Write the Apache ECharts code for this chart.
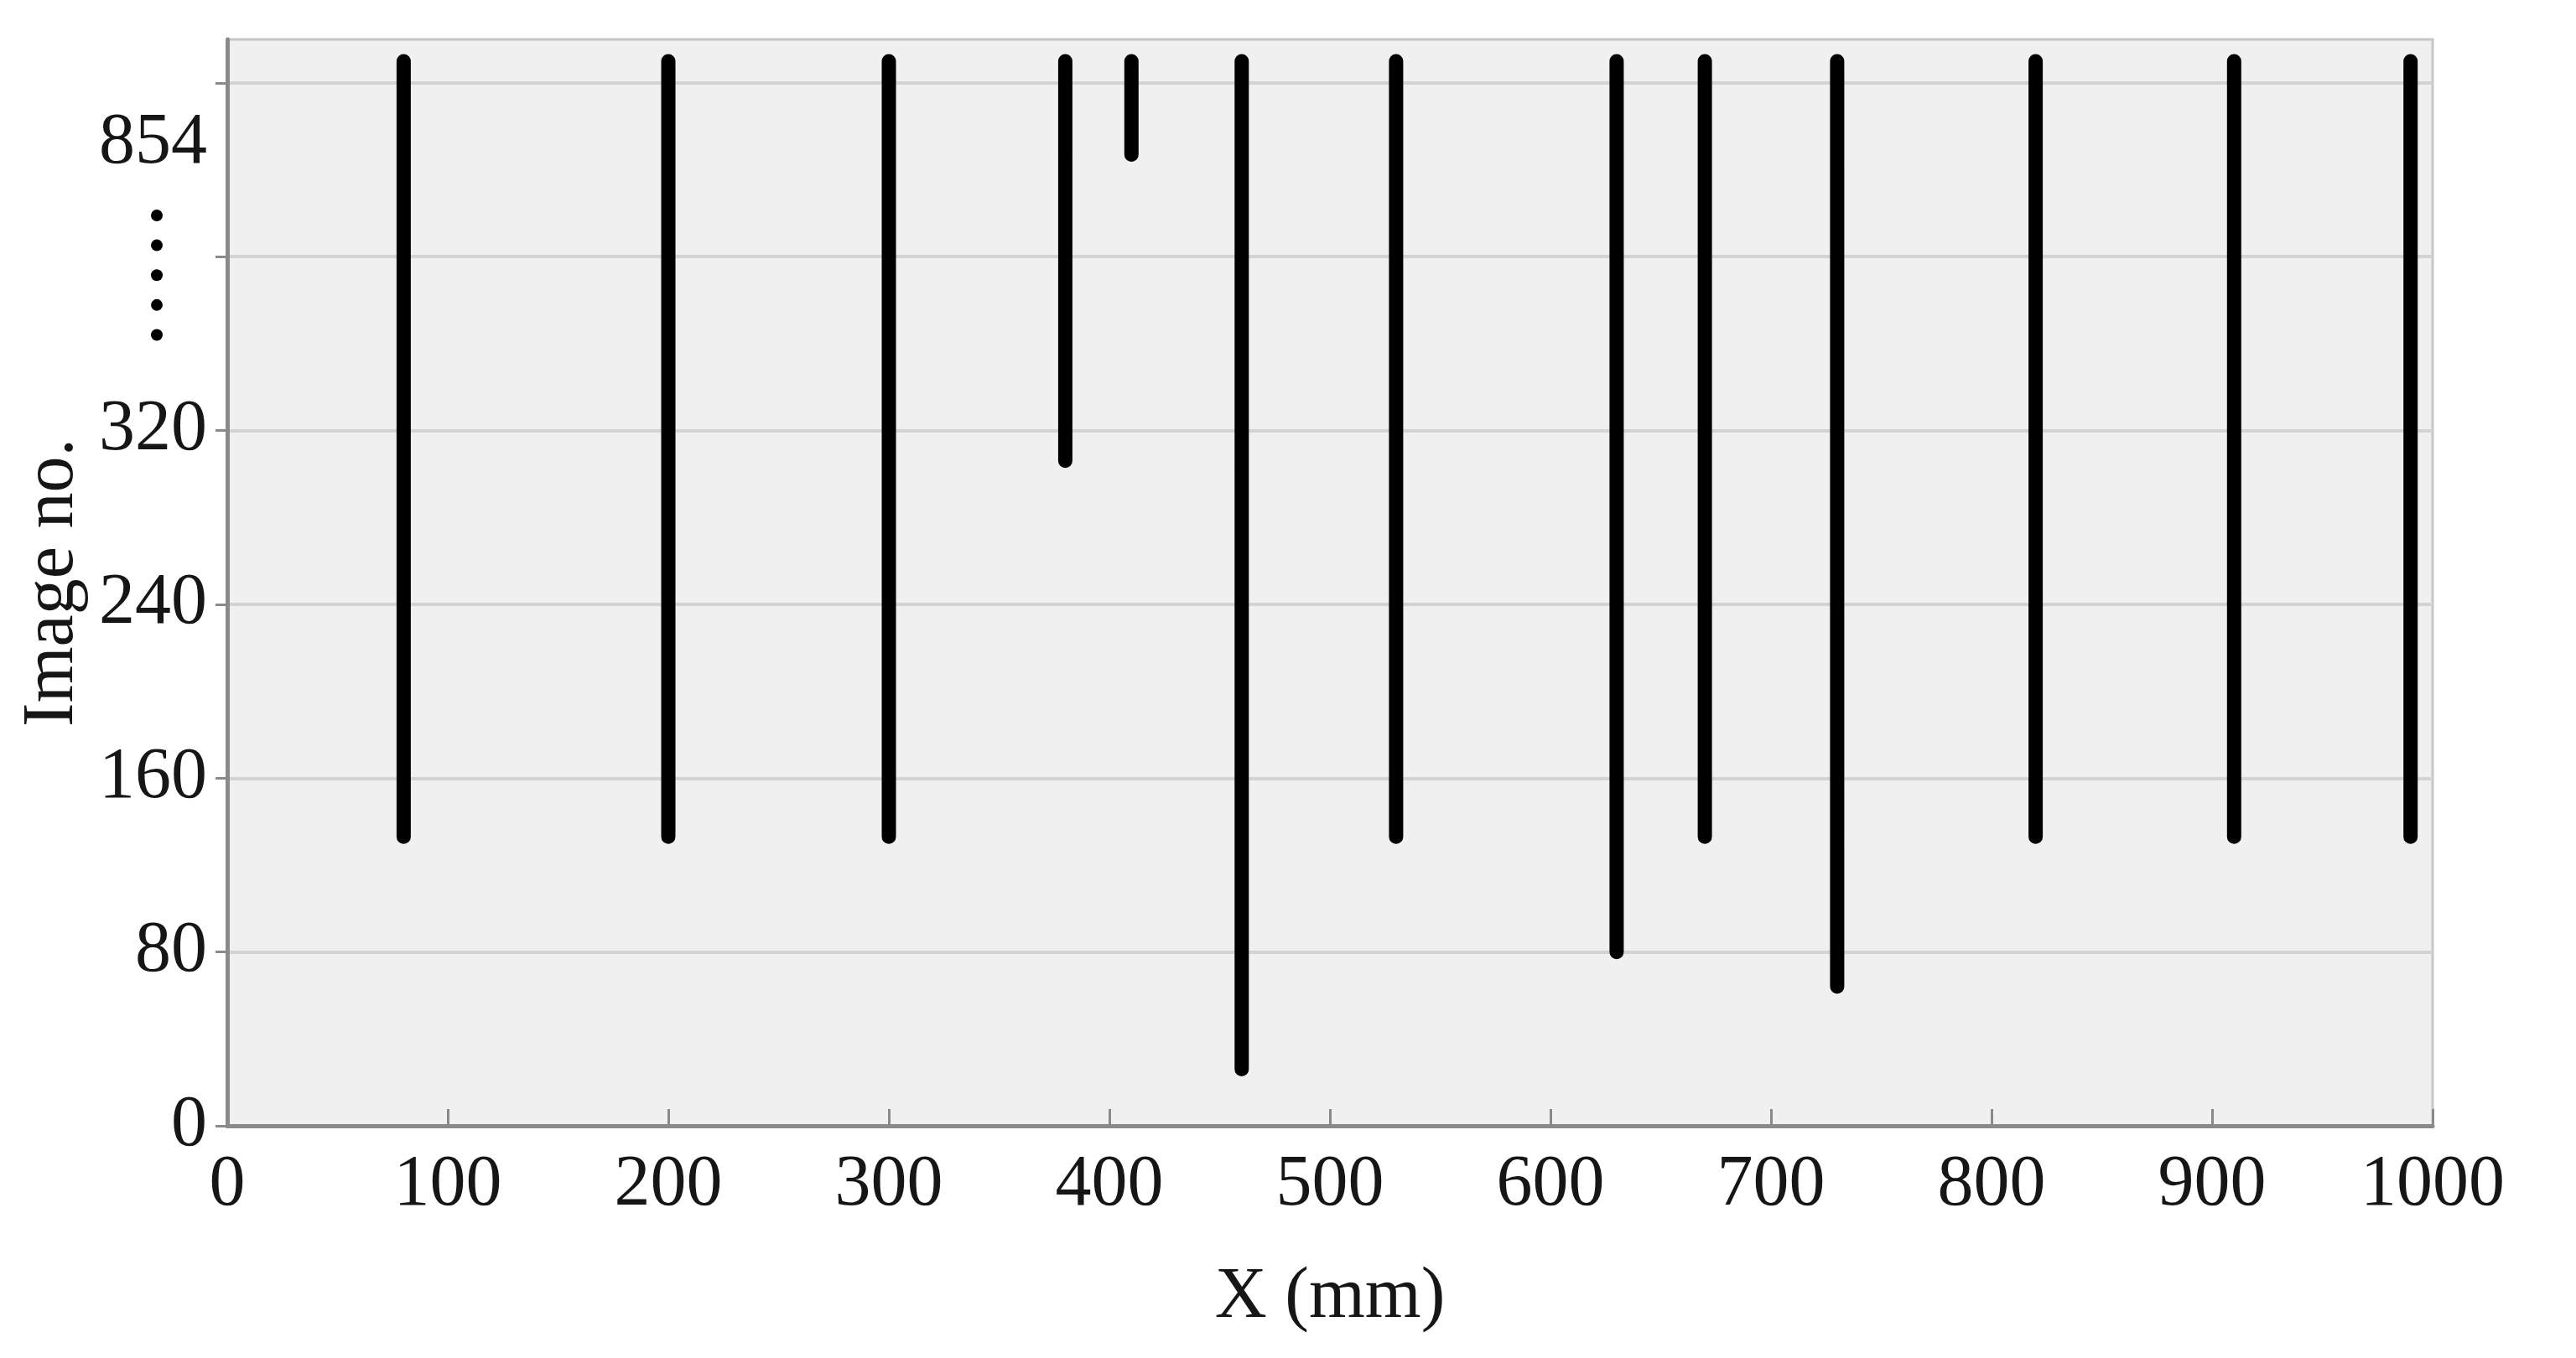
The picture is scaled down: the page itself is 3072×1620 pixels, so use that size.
<!DOCTYPE html>
<html>
<head>
<meta charset="utf-8">
<script src="https://cdn.jsdelivr.net/npm/echarts@6/dist/echarts.min.js"></script>
<style>
html,body{margin:0;padding:0;background:#fff;}
#chart{width:3072px;height:1620px;}
</style>
</head>
<body>
<div id="chart"></div>
<script>
// X positions (mm) of each vertical detection line
const xPositions = [80, 200, 300, 380, 410, 460, 530, 630, 670, 730, 820, 910, 990];
// Line extents on the (broken) image-number axis
const lineBottoms = [133, 133, 133, 306, 447, 26, 133, 80, 133, 64, 133, 133, 133];
const lineTops    = [490, 490, 490, 490, 490, 490, 490, 490, 490, 490, 490, 490, 490];

// Y-axis tick marks and labels (axis is broken above 320; top labelled 854)
const yTickValues  = [0, 80, 160, 240, 320, 400, 480];
const yLabelValues = [0, 80, 160, 240, 320, 452];
const yLabelTexts  = ['0', '80', '160', '240', '320', '854'];
const yBreakRange  = [364, 419];   // span of the "....." break marker

const xTickValues = [0, 100, 200, 300, 400, 500, 600, 700, 800, 900, 1000];

const FONT = 'Liberation Serif';
const TXT = '#161616';
const AXIS = '#8a8a8a';

// Build line data: each segment separated by a break
const lineData = [];
xPositions.forEach((x, i) => {
  lineData.push([x, lineBottoms[i]]);
  lineData.push([x, lineTops[i]]);
  lineData.push('-');
});

const chart = echarts.init(document.getElementById('chart'));
chart.setOption({
  animation: false,
  backgroundColor: '#ffffff',
  grid: {
    left: 271, right: 171, top: 47, bottom: 277,
    show: true, backgroundColor: '#f0f0f0',
    borderColor: '#c6c6c6', borderWidth: 3
  },
  xAxis: {
    type: 'value', min: 0, max: 1000, interval: 100,
    name: 'X (mm)', nameLocation: 'middle', nameGap: 162,
    nameTextStyle: {fontFamily: FONT, fontSize: 86, color: TXT},
    axisLine: {show: true, lineStyle: {color: AXIS, width: 5}},
    axisTick: {show: true, inside: true, length: 20, lineStyle: {color: AXIS, width: 3}},
    axisLabel: {
      margin: 28, fontFamily: FONT, fontSize: 86, color: TXT,
      customValues: xTickValues,
      formatter: v => String(v)
    },
    splitLine: {show: false}
  },
  yAxis: {
    type: 'value', min: 0, max: 500, interval: 20,
    name: 'Image no.', nameLocation: 'middle', nameGap: 165, nameRotate: 90,
    nameTextStyle: {fontFamily: FONT, fontSize: 86, color: TXT},
    axisLine: {show: true, lineStyle: {color: AXIS, width: 5}},
    axisTick: {show: true, length: 14, customValues: yTickValues, lineStyle: {color: AXIS, width: 3}},
    axisLabel: {
      margin: 24, fontFamily: FONT, fontSize: 86, color: TXT,
      customValues: yLabelValues,
      formatter: v => {
        const i = yLabelValues.indexOf(v);
        return i >= 0 ? yLabelTexts[i] : '';
      }
    },
    splitLine: {show: true, lineStyle: {color: '#d3d3d3', width: 4}}
  },
  series: [{
    type: 'line',
    data: lineData,
    symbol: 'none',
    connectNulls: false,
    lineStyle: {color: '#000000', width: 17, cap: 'round'},
    z: 5
  }]
});

// Break marker (vertical dots) positioned through the axis scale
const axisX = chart.convertToPixel({xAxisIndex: 0}, 0);
const yTopPx = chart.convertToPixel({yAxisIndex: 0}, yBreakRange[1]);
const yBotPx = chart.convertToPixel({yAxisIndex: 0}, yBreakRange[0]);
const dots = [];
const nDots = 5;
for (let k = 0; k < nDots; k++) {
  dots.push({
    type: 'circle',
    shape: {cx: axisX - 84, cy: yTopPx + (yBotPx - yTopPx) * k / (nDots - 1), r: 7},
    style: {fill: '#000'}
  });
}
chart.setOption({graphic: dots});
</script>
</body>
</html>
